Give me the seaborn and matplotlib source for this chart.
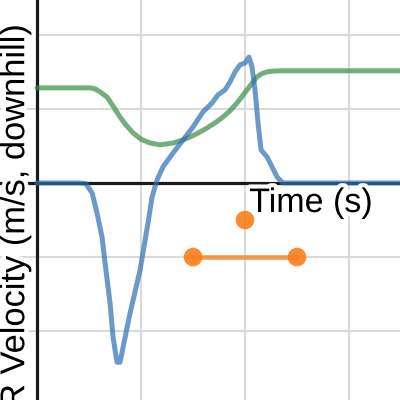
import matplotlib
matplotlib.use("Agg")
import matplotlib.pyplot as plt
import matplotlib.patheffects as pe
import seaborn as sns
import pandas as pd

# Blue: R velocity trace
blue_t = [0.0, 0.22, 0.41, 0.47, 0.53, 0.577, 0.625, 0.654, 0.702, 0.731, 0.769, 0.798,
          0.894, 0.99, 1.067, 1.106, 1.154, 1.212, 1.308, 1.404, 1.5, 1.596, 1.683, 1.74,
          1.808, 1.856, 1.904, 1.952, 2.0, 2.038, 2.067, 2.096, 2.125, 2.154, 2.212, 2.26,
          2.308, 2.365, 2.53, 3.0, 3.5]
blue_v = [0.0, 0.0, 0.0, -0.01, -0.135, -0.405, -0.73, -1.08, -1.62, -2.08, -2.42, -2.42,
          -1.76, -1.18, -0.54, -0.19, 0.04, 0.22, 0.405, 0.58, 0.757, 0.96, 1.08, 1.19,
          1.257, 1.365, 1.5, 1.595, 1.62, 1.70, 1.567, 1.257, 0.81, 0.446, 0.351, 0.216,
          0.081, 0.0, 0.0, 0.0, 0.0]

# Green: smooth profile
green_t = [0.0, 0.51, 0.56, 0.606, 0.673, 0.735, 0.798, 0.86, 0.923, 1.0, 1.087, 1.183,
           1.308, 1.39, 1.471, 1.55, 1.635, 1.71, 1.788, 1.86, 1.923, 1.97, 2.019, 2.07,
           2.115, 2.16, 2.212, 2.27, 2.337, 3.5]
green_v = [1.284, 1.284, 1.27, 1.23, 1.16, 1.03, 0.89, 0.775, 0.676, 0.59, 0.54, 0.514,
           0.54, 0.575, 0.62, 0.675, 0.743, 0.81, 0.89, 0.98, 1.08, 1.165, 1.257, 1.35,
           1.432, 1.475, 1.5, 1.51, 1.514, 1.514]

# Orange: point and segment
pt_t = [2.0]
pt_v = [-0.5]
seg_t = [1.5, 2.5]
seg_v = [-1.0, -1.0]

BLUE = "#2d70b3"
GREEN = "#388c46"
ORANGE = "#fa7e19"

sns.set_style("white")
plt.rcParams["font.family"] = ["Liberation Sans", "DejaVu Sans"]

fig = plt.figure(figsize=(4, 4), dpi=100)
ax = fig.add_axes([0, 0, 1, 1])
ax.set_xlim(-0.356, 3.49)
ax.set_ylim(-2.93, 2.47)

# grid
for gx in [1, 2, 3]:
    ax.axvline(gx, color="#dadada", lw=1.5, zorder=0)
for gy in [-2, -1, 1, 2]:
    ax.axhline(gy, color="#dadada", lw=1.5, zorder=0)
# axes lines
ax.axvline(0, color="#1a1a1a", lw=2.3, zorder=1)
ax.axhline(0, color="#1a1a1a", lw=2.3, zorder=1)
for s in ax.spines.values():
    s.set_visible(False)
ax.set_xticks([])
ax.set_yticks([])

dfg = pd.DataFrame({"t": green_t, "v": green_v})
dfb = pd.DataFrame({"t": blue_t, "v": blue_v})
dfs = pd.DataFrame({"t": seg_t, "v": seg_v})
dfp = pd.DataFrame({"t": pt_t, "v": pt_v})

sns.lineplot(data=dfg, x="t", y="v", sort=False, estimator=None, color=GREEN,
             alpha=0.7, lw=3.6, ax=ax, zorder=3)
sns.lineplot(data=dfb, x="t", y="v", sort=False, estimator=None, color=BLUE,
             alpha=0.7, lw=3.6, ax=ax, zorder=4)
sns.lineplot(data=dfs, x="t", y="v", sort=False, estimator=None, color=ORANGE,
             alpha=0.75, lw=3.4, ax=ax, zorder=5)
sns.scatterplot(data=dfs, x="t", y="v", color=ORANGE, s=180, alpha=0.9,
                edgecolor="none", ax=ax, zorder=6)
sns.scatterplot(data=dfp, x="t", y="v", color=ORANGE, s=180, alpha=0.9,
                edgecolor="none", ax=ax, zorder=6)
ax.set_xlabel("")
ax.set_ylabel("")

halo = [pe.withStroke(linewidth=6, foreground="white")]
ax.text(2.04, -0.392, "Time (s)", fontsize=24.5, ha="left", va="baseline",
        color="black", zorder=7, path_effects=halo)
ax.text(-0.205, -0.45, "R Velocity (m/s, downhill)", fontsize=24.8, rotation=90,
        ha="center", va="center", color="black", zorder=7, path_effects=halo)

fig.savefig("out.png", dpi=100)
